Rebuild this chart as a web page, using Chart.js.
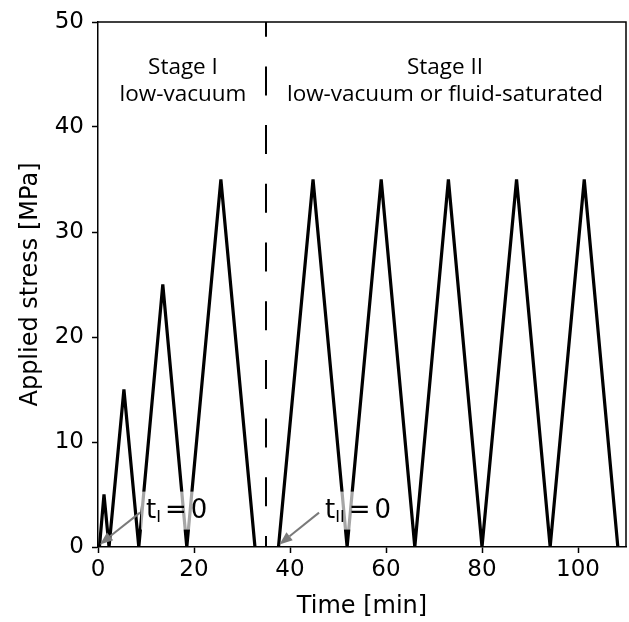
<!DOCTYPE html>
<html><head><meta charset="utf-8">
<script src="https://cdn.jsdelivr.net/npm/chart.js@4"></script>
<style>html,body{margin:0;padding:0;background:#fff;}</style>
</head><body>
<canvas id="c" width="629" height="622" style="display:block;width:629px;height:622px"></canvas>
<script>
// ---- data ----
const stage1Time   = [0.3, 1.25, 2.3, 5.4, 8.5, 13.5, 18.5, 25.6, 32.7];
const stage1Stress = [0,   5,    0,   15,  0,   25,   0,    35,   0];
const stage2Time   = [37.6, 44.8, 51.9, 59.0, 66.0, 73.0, 80.0, 87.2, 94.2, 101.3, 108.3];
const stage2Stress = [0,    35,   0,    35,   0,    35,   0,    35,   0,    35,    0];
const boundaryTime   = [35, 35];
const boundaryStress = [0, 50];
const xTicks = [0, 20, 40, 60, 80, 100];
const yTicks = [0, 10, 20, 30, 40, 50];
const stageTitles = ['Stage I', 'Stage II'];
const stageSubtitles = ['low-vacuum', 'low-vacuum or fluid-saturated'];
const stageCenters = [17.7, 72.3];
const startSubs = ['I', 'II'];
const startTextX = [10, 47.3];
const startTipX = [0.4, 37.8];

// ---- layout / style settings ----
const TITLE_Y1 = 45.05, TITLE_Y2 = 42.48, START_TEXT_Y = 2.8, START_TIP_Y = 0.25;
const tickFont = {family: 'DejaVu Sans', size: 23};
const titleFont = {family: 'DejaVu Sans', size: 24};

const toPts = (xs, ys) => xs.map((v, i) => ({x: v, y: ys[i]}));

const annot = {
  id: 'annot',
  afterDatasetsDraw(chart) {
    const {ctx, chartArea: a, scales: {x, y}} = chart;
    ctx.save();
    // top/right spines
    ctx.strokeStyle = '#000'; ctx.lineWidth = 1.5;
    ctx.beginPath();
    ctx.moveTo(a.left, a.top); ctx.lineTo(a.right, a.top); ctx.lineTo(a.right, a.bottom);
    ctx.stroke();
    // stage labels
    ctx.fillStyle = '#000'; ctx.textAlign = 'center'; ctx.textBaseline = 'alphabetic';
    ctx.font = '22.5px "Open Sans"';
    stageCenters.forEach((c, i) => {
      const px = x.getPixelForValue(c);
      ctx.fillText(stageTitles[i], px, y.getPixelForValue(TITLE_Y1));
      ctx.fillText(stageSubtitles[i], px, y.getPixelForValue(TITLE_Y2));
    });
    // t = 0 labels (mathtext-like spacing)
    ctx.textAlign = 'left';
    const MAIN = '26px "DejaVu Sans"', SUB = '16px "DejaVu Sans"';
    startSubs.forEach((sub, i) => {
      const x0 = x.getPixelForValue(startTextX[i]);
      const yb = y.getPixelForValue(START_TEXT_Y);
      ctx.font = MAIN;
      const wt = ctx.measureText('t').width;
      const we = ctx.measureText('=').width;
      const wz = ctx.measureText('0').width;
      ctx.font = SUB;
      const ws = ctx.measureText(sub).width;
      const gap = 4;
      const w = wt + ws + gap + we + gap + wz;
      const bx = x0 - 5, by = yb - 26, bw = w + 8, bh = 38;
      ctx.fillStyle = 'rgba(255,255,255,0.65)';
      ctx.fillRect(bx, by, bw, bh);
      // arrow
      const tx = bx - 1, ty = yb - 5;
      const hx = x.getPixelForValue(startTipX[i]), hy = y.getPixelForValue(START_TIP_Y);
      const ang = Math.atan2(hy - ty, hx - tx);
      const hl = 13, hw = 5;
      const bxp = hx - hl * Math.cos(ang), byp = hy - hl * Math.sin(ang);
      ctx.strokeStyle = '#7a7a7a'; ctx.fillStyle = '#7a7a7a'; ctx.lineWidth = 2;
      ctx.beginPath(); ctx.moveTo(tx, ty); ctx.lineTo(bxp, byp); ctx.stroke();
      ctx.beginPath();
      ctx.moveTo(hx, hy);
      ctx.lineTo(bxp + hw * Math.sin(ang), byp - hw * Math.cos(ang));
      ctx.lineTo(bxp - hw * Math.sin(ang), byp + hw * Math.cos(ang));
      ctx.closePath(); ctx.fill();
      // text
      ctx.fillStyle = '#000';
      ctx.font = MAIN;
      ctx.fillText('t', x0, yb);
      ctx.font = SUB;
      ctx.fillText(sub, x0 + wt, yb + 4);
      ctx.font = MAIN;
      ctx.fillText('=', x0 + wt + ws + gap, yb);
      ctx.fillText('0', x0 + wt + ws + gap + we + gap, yb);
    });
    ctx.restore();
  }
};

new Chart(document.getElementById('c'), {
  type: 'line',
  data: {
    datasets: [
      {data: toPts(stage1Time, stage1Stress), borderColor: '#000', borderWidth: 3.2, pointRadius: 0, fill: false},
      {data: toPts(stage2Time, stage2Stress), borderColor: '#000', borderWidth: 3.2, pointRadius: 0, fill: false},
      {data: toPts(boundaryTime, boundaryStress), borderColor: '#000', borderWidth: 2, borderDash: [29, 29.7], borderDashOffset: 18, pointRadius: 0, fill: false}
    ]
  },
  options: {
    responsive: false, animation: false, devicePixelRatio: 1,
    layout: {padding: {top: 22, right: 3, left: 0, bottom: 0}},
    plugins: {legend: {display: false}, tooltip: {enabled: false}},
    elements: {line: {tension: 0, borderJoinStyle: 'miter', borderCapStyle: 'butt'}},
    scales: {
      x: {
        type: 'linear', min: 0, max: 110,
        afterBuildTicks: s => { s.ticks = xTicks.map(v => ({value: v})); },
        afterFit: s => { s.height = 75; },
        grid: {display: true, drawOnChartArea: false, drawTicks: true, tickLength: 6, tickColor: '#000', tickWidth: 1.5},
        border: {display: true, color: '#000', width: 1.5},
        ticks: {color: '#000', font: tickFont, padding: 3, maxRotation: 0, autoSkip: false},
        title: {display: true, text: 'Time [min]', color: '#000', font: titleFont, padding: {top: 0, bottom: 1}}
      },
      y: {
        type: 'linear', min: 0, max: 50,
        afterBuildTicks: s => { s.ticks = yTicks.map(v => ({value: v})); },
        afterFit: s => { s.width = 98; },
        grid: {display: true, drawOnChartArea: false, drawTicks: true, tickLength: 6, tickColor: '#000', tickWidth: 1.5},
        border: {display: true, color: '#000', width: 1.5},
        ticks: {color: '#000', font: tickFont, padding: 8, autoSkip: false},
        title: {display: true, text: 'Applied stress [MPa]', color: '#000', font: titleFont, padding: {top: 16, bottom: 0}}
      }
    }
  },
  plugins: [annot]
});
</script>
</body></html>
